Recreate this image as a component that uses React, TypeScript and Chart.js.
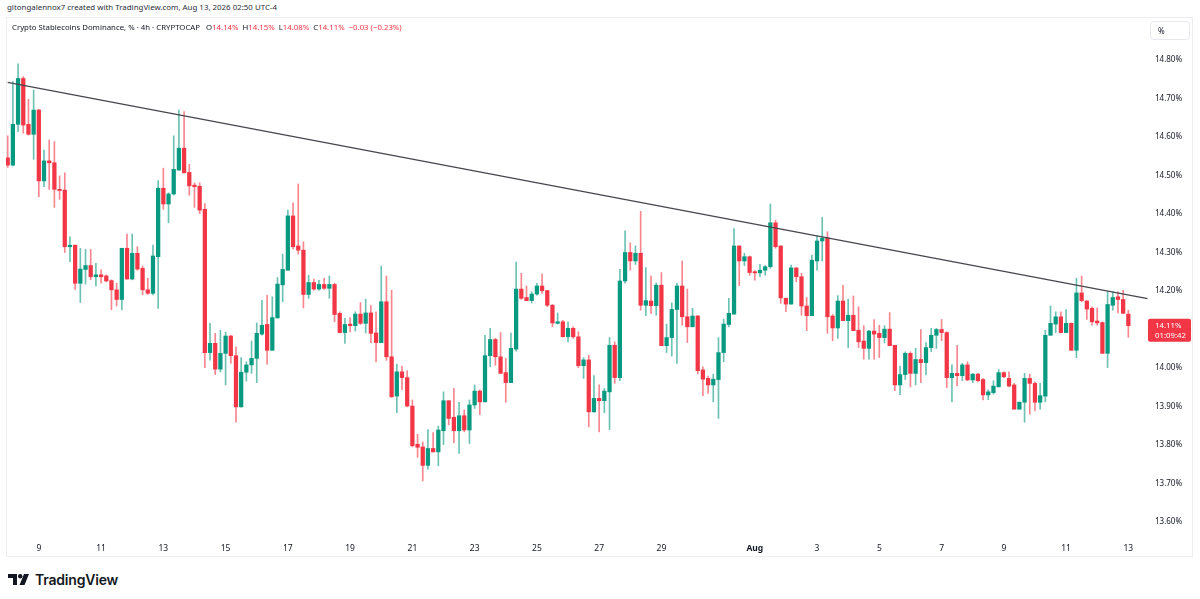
import { useEffect, useRef } from 'react';
import { Chart, registerables } from 'chart.js';

Chart.register(...registerables);

// 4h candles, Jul 8 00:00 -> Aug 13 00:00 (UTC-4)
const opens = [
  14.546, 14.527, 14.633, 14.752, 14.633, 14.607, 14.670, 14.486, 14.538, 14.533,
  14.464, 14.462, 14.315, 14.319, 14.220, 14.256, 14.266, 14.237, 14.242, 14.239,
  14.227, 14.203, 14.178, 14.311, 14.231, 14.298, 14.259, 14.203, 14.194, 14.289,
  14.467, 14.426, 14.452, 14.514, 14.571, 14.508, 14.475, 14.472, 14.412, 14.040,
  14.064, 13.997, 14.038, 14.083, 14.032, 13.899, 13.989, 14.008, 14.025, 14.088,
  14.113, 14.046, 14.130, 14.216, 14.254, 14.395, 14.317, 14.306, 14.191, 14.222,
  14.205, 14.217, 14.207, 14.217, 14.142, 14.092, 14.114, 14.110, 14.140, 14.116,
  14.143, 14.091, 14.066, 14.172, 14.029, 13.927, 13.990, 13.975, 13.901, 13.802,
  13.795, 13.747, 13.791, 13.782, 13.837, 13.915, 13.872, 13.837, 13.876, 13.839,
  13.904, 13.940, 13.912, 14.032, 14.074, 14.029, 13.988, 13.962, 14.049, 14.205,
  14.183, 14.175, 14.192, 14.213, 14.201, 14.163, 14.116, 14.120, 14.081, 14.103,
  14.081, 14.006, 14.021, 13.886, 13.921, 13.915, 13.938, 14.059, 13.975, 14.226,
  14.300, 14.278, 14.298, 14.163, 14.174, 14.162, 14.215, 14.058, 14.079, 14.152,
  14.213, 14.133, 14.107, 14.135, 13.995, 13.973, 13.956, 13.970, 14.040, 14.113,
  14.140, 14.317, 14.278, 14.289, 14.250, 14.247, 14.254, 14.263, 14.377, 14.317,
  14.181, 14.166, 14.260, 14.237, 14.161, 14.136, 14.278, 14.330, 14.338, 14.135,
  14.104, 14.174, 14.123, 14.137, 14.098, 14.070, 14.051, 14.096, 14.090, 14.079,
  14.101, 14.059, 13.956, 13.983, 14.038, 13.986, 14.022, 14.014, 14.053, 14.085,
  14.100, 14.092, 13.975, 13.986, 13.980, 14.008, 13.969, 13.984, 13.970, 13.930,
  13.936, 13.951, 13.988, 13.973, 13.956, 13.893, 13.911, 13.973, 13.960, 13.911,
  13.927, 14.085, 14.114, 14.133, 14.092, 14.116, 14.046, 14.195, 14.174, 14.155,
  14.122, 14.118, 14.038, 14.163, 14.185, 14.178, 14.140,
];
const highs = [
  14.603, 14.744, 14.790, 14.757, 14.698, 14.722, 14.672, 14.566, 14.592, 14.588,
  14.499, 14.507, 14.341, 14.319, 14.311, 14.308, 14.308, 14.272, 14.255, 14.242,
  14.229, 14.220, 14.311, 14.348, 14.348, 14.315, 14.265, 14.233, 14.319, 14.487,
  14.519, 14.455, 14.603, 14.670, 14.666, 14.529, 14.481, 14.481, 14.427, 14.116,
  14.090, 14.098, 14.093, 14.085, 14.055, 14.027, 14.016, 14.070, 14.117, 14.176,
  14.189, 14.185, 14.235, 14.296, 14.410, 14.429, 14.478, 14.328, 14.241, 14.231,
  14.228, 14.233, 14.239, 14.220, 14.146, 14.129, 14.131, 14.146, 14.170, 14.179,
  14.163, 14.146, 14.265, 14.239, 14.202, 14.010, 14.005, 13.993, 13.917, 13.828,
  13.808, 13.840, 13.832, 13.849, 13.938, 13.915, 13.947, 13.911, 13.891, 13.917,
  13.956, 13.943, 14.085, 14.103, 14.077, 14.092, 14.025, 14.091, 14.275, 14.246,
  14.213, 14.198, 14.220, 14.244, 14.202, 14.165, 14.143, 14.124, 14.120, 14.107,
  14.094, 14.027, 14.033, 13.980, 13.956, 13.947, 14.079, 14.068, 14.256, 14.356,
  14.325, 14.317, 14.407, 14.261, 14.239, 14.221, 14.248, 14.114, 14.169, 14.220,
  14.278, 14.205, 14.155, 14.137, 14.003, 13.979, 13.984, 14.079, 14.127, 14.181,
  14.362, 14.317, 14.298, 14.291, 14.253, 14.269, 14.266, 14.426, 14.384, 14.317,
  14.182, 14.267, 14.260, 14.246, 14.183, 14.293, 14.343, 14.391, 14.354, 14.139,
  14.188, 14.215, 14.179, 14.187, 14.159, 14.110, 14.098, 14.126, 14.111, 14.110,
  14.144, 14.059, 14.005, 14.042, 14.042, 14.051, 14.100, 14.066, 14.103, 14.103,
  14.126, 14.094, 14.008, 14.059, 14.012, 14.016, 13.986, 13.986, 13.973, 13.943,
  13.967, 13.996, 13.990, 13.990, 13.960, 13.912, 13.986, 13.984, 13.964, 13.960,
  14.098, 14.161, 14.146, 14.146, 14.152, 14.117, 14.233, 14.239, 14.175, 14.159,
  14.156, 14.120, 14.198, 14.198, 14.198, 14.202, 14.150,
];
const lows = [
  14.521, 14.525, 14.614, 14.610, 14.605, 14.542, 14.445, 14.471, 14.464, 14.417,
  14.438, 14.300, 14.276, 14.204, 14.170, 14.218, 14.229, 14.213, 14.220, 14.224,
  14.151, 14.161, 14.151, 14.231, 14.229, 14.254, 14.190, 14.191, 14.190, 14.155,
  14.412, 14.377, 14.449, 14.514, 14.507, 14.449, 14.417, 14.401, 14.001, 14.020,
  13.983, 13.990, 13.956, 14.012, 13.859, 13.898, 13.966, 13.986, 13.962, 14.085,
  14.010, 14.046, 14.130, 14.172, 14.254, 14.309, 14.296, 14.156, 14.181, 14.202,
  14.202, 14.204, 14.181, 14.120, 14.092, 14.064, 14.094, 14.096, 14.113, 14.091,
  14.066, 14.016, 14.066, 14.020, 13.924, 13.884, 13.944, 13.899, 13.795, 13.768,
  13.707, 13.737, 13.782, 13.746, 13.801, 13.852, 13.806, 13.778, 13.834, 13.804,
  13.895, 13.879, 13.912, 14.003, 14.007, 13.986, 13.911, 13.962, 14.044, 14.178,
  14.175, 14.169, 14.189, 14.194, 14.159, 14.107, 14.114, 14.081, 14.068, 14.077,
  14.001, 13.973, 13.847, 13.885, 13.834, 13.884, 13.840, 13.960, 13.967, 14.220,
  14.254, 14.269, 14.150, 14.136, 14.142, 14.137, 14.058, 14.040, 14.031, 14.012,
  14.111, 14.066, 14.107, 13.985, 13.928, 13.934, 13.912, 13.869, 14.016, 14.107,
  14.140, 14.214, 14.266, 14.241, 14.228, 14.237, 14.241, 14.259, 14.311, 14.168,
  14.146, 14.166, 14.224, 14.137, 14.097, 14.136, 14.254, 14.278, 14.090, 14.071,
  14.077, 14.123, 14.053, 14.097, 14.053, 14.023, 14.023, 14.023, 14.027, 14.065,
  14.058, 13.941, 13.931, 13.970, 13.951, 13.956, 13.962, 13.982, 14.042, 14.051,
  14.071, 13.949, 13.912, 13.954, 13.967, 13.967, 13.962, 13.964, 13.917, 13.918,
  13.932, 13.951, 13.975, 13.951, 13.893, 13.893, 13.859, 13.880, 13.889, 13.893,
  13.912, 14.085, 14.092, 14.092, 14.092, 14.046, 14.027, 14.172, 14.126, 14.111,
  14.111, 14.038, 14.001, 14.150, 14.143, 14.141, 14.080,
];
const closes = [
  14.527, 14.633, 14.752, 14.631, 14.607, 14.670, 14.486, 14.538, 14.533, 14.464,
  14.461, 14.315, 14.319, 14.220, 14.257, 14.266, 14.237, 14.242, 14.237, 14.226,
  14.203, 14.178, 14.311, 14.231, 14.298, 14.257, 14.203, 14.194, 14.291, 14.467,
  14.426, 14.452, 14.516, 14.571, 14.507, 14.473, 14.471, 14.410, 14.040, 14.064,
  13.997, 14.038, 14.083, 14.032, 13.899, 13.989, 14.008, 14.025, 14.090, 14.111,
  14.046, 14.131, 14.218, 14.256, 14.395, 14.315, 14.306, 14.191, 14.222, 14.205,
  14.217, 14.207, 14.217, 14.139, 14.092, 14.113, 14.110, 14.140, 14.116, 14.143,
  14.090, 14.066, 14.172, 14.029, 13.925, 13.990, 13.975, 13.901, 13.798, 13.794,
  13.747, 13.791, 13.782, 13.839, 13.915, 13.869, 13.837, 13.876, 13.839, 13.904,
  13.940, 13.912, 14.032, 14.074, 14.029, 13.986, 13.962, 14.051, 14.205, 14.181,
  14.175, 14.192, 14.213, 14.201, 14.163, 14.117, 14.120, 14.081, 14.103, 14.081,
  14.006, 14.021, 13.886, 13.921, 13.915, 13.940, 14.059, 13.975, 14.226, 14.300,
  14.278, 14.298, 14.163, 14.175, 14.162, 14.215, 14.058, 14.079, 14.152, 14.213,
  14.133, 14.107, 14.135, 13.993, 13.971, 13.956, 13.971, 14.040, 14.114, 14.142,
  14.317, 14.278, 14.289, 14.248, 14.247, 14.254, 14.263, 14.377, 14.315, 14.182,
  14.166, 14.260, 14.237, 14.161, 14.136, 14.280, 14.330, 14.337, 14.133, 14.104,
  14.174, 14.123, 14.137, 14.097, 14.068, 14.051, 14.096, 14.088, 14.079, 14.101,
  14.058, 13.956, 13.983, 14.038, 13.986, 14.022, 14.014, 14.053, 14.085, 14.100,
  14.092, 13.975, 13.986, 13.980, 14.008, 13.969, 13.984, 13.967, 13.930, 13.938,
  13.953, 13.988, 13.977, 13.953, 13.893, 13.911, 13.973, 13.960, 13.911, 13.928,
  14.085, 14.116, 14.133, 14.092, 14.116, 14.046, 14.195, 14.175, 14.153, 14.120,
  14.117, 14.038, 14.165, 14.183, 14.178, 14.142, 14.110,
];

// time axis: candle index of each labelled day, and its label
const dayTickIndex = [6, 18, 30, 42, 54, 66, 78, 90, 102, 114, 126, 144, 156, 168, 180, 192, 204, 216];
const dayTickLabels = ['9', '11', '13', '15', '17', '19', '21', '23', '25', '27', '29', 'Aug', '3', '5', '7', '9', '11', '13'];

const priceTicks = [13.6, 13.7, 13.8, 13.9, 14.0, 14.2, 14.3, 14.4, 14.5, 14.6, 14.7, 14.8];

// hand-drawn resistance line (candle index, price)
const trendIndex = [0, 219.7];
const trendPrice = [14.742, 14.18];

const UP = '#089981';
const DOWN = '#F23645';
const UP_WICK = 'rgba(8,153,129,0.6)';
const DOWN_WICK = 'rgba(242,54,69,0.6)';
const FONT = '"Noto Sans", Roboto, sans-serif';

const lastPriceLabel = {
  id: 'lastPriceLabel',
  afterDraw(chart: any) {
    const { ctx, chartArea, scales } = chart;
    const last = closes[closes.length - 1];
    const y = scales.y.getPixelForValue(last);
    const x = chartArea.right;
    ctx.save();
    ctx.fillStyle = DOWN;
    ctx.beginPath();
    ctx.roundRect(x, y - 7, 43, 23, 2);
    ctx.fill();
    ctx.fillStyle = '#ffffff';
    ctx.font = `7.8px ${FONT}`;
    ctx.textBaseline = 'middle';
    ctx.textAlign = 'left';
    ctx.fillText(last.toFixed(2) + '%', x + 7, y);
    ctx.fillText('01:09:42', x + 7, y + 10);
    ctx.restore();
  },
};

function CandleChart() {
  const canvasRef = useRef<HTMLCanvasElement>(null);

  useEffect(() => {
    if (!canvasRef.current) return;
    const idx = opens.map((_, i) => i);
    const isUp = idx.map((i) => closes[i] >= opens[i]);

    const chart = new Chart(canvasRef.current, {
      type: 'bar',
      data: {
        datasets: [
          {
            type: 'bar',
            label: 'wicks',
            data: idx.map((i) => ({ x: i, y: [lows[i], highs[i]] })) as any,
            backgroundColor: isUp.map((u) => (u ? UP_WICK : DOWN_WICK)),
            barThickness: 1,
            grouped: false,
            order: 3,
          },
          {
            type: 'bar',
            label: 'bodies',
            data: idx.map((i) => ({ x: i, y: [opens[i], closes[i]] })) as any,
            backgroundColor: isUp.map((u) => (u ? UP : DOWN)),
            barThickness: 3.6,
            minBarLength: 1,
            grouped: false,
            order: 2,
          },
          {
            type: 'line',
            label: 'trend',
            data: trendIndex.map((v, i) => ({ x: v, y: trendPrice[i] })) as any,
            borderColor: '#45474d',
            borderWidth: 1.2,
            pointRadius: 0,
            order: 1,
          },
        ],
      },
      options: {
        responsive: false,
        animation: false,
        events: [],
        layout: { padding: 0 },
        plugins: {
          legend: { display: false },
          tooltip: { enabled: false },
        },
        scales: {
          x: {
            type: 'linear',
            min: -0.328,
            max: 219.79,
            offset: false,
            grid: { display: false, drawTicks: false },
            border: { display: false },
            afterFit: (scale: any) => {
              scale.height = 20;
              scale.paddingLeft = 0;
              scale.paddingRight = 0;
            },
            afterBuildTicks: (scale: any) => {
              scale.ticks = dayTickIndex.map((v) => ({ value: v }));
            },
            ticks: {
              autoSkip: false,
              maxRotation: 0,
              padding: 6,
              color: '#131722',
              font: (c: any) => ({
                family: FONT,
                size: 8.5,
                weight: c.tick && c.tick.label === 'Aug' ? 'bold' : 'normal',
              }),
              callback: (value: any) => {
                const k = dayTickIndex.indexOf(Number(value));
                return k >= 0 ? dayTickLabels[k] : '';
              },
            },
          },
          y: {
            type: 'linear',
            position: 'right',
            min: 13.561,
            max: 14.9091,
            grid: { display: false, drawTicks: false },
            border: { display: false },
            afterFit: (scale: any) => {
              scale.width = 45;
              scale.paddingTop = 0;
              scale.paddingBottom = 0;
            },
            afterBuildTicks: (scale: any) => {
              scale.ticks = priceTicks.map((v) => ({ value: v }));
            },
            ticks: {
              padding: 7,
              color: '#131722',
              font: { family: FONT, size: 8 },
              callback: (value: any) => Number(value).toFixed(2) + '%',
            },
          },
        },
      },
      plugins: [lastPriceLabel],
    });

    return () => chart.destroy();
  }, []);

  return <canvas ref={canvasRef} width={1187} height={539} style={{ display: 'block' }} />;
}

function Logo() {
  return (
    <div style={{ position: 'absolute', left: 8, top: 571, display: 'flex', alignItems: 'center' }}>
      <svg width="22" height="11" viewBox="0 0 22 11">
        <path d="M0 0 H9 V11 H5 V4 H0 Z" fill="#131722" />
        <circle cx="12.2" cy="2.2" r="2.2" fill="#131722" />
        <path d="M16 0 H21 L16.5 11 H11.5 Z" fill="#131722" />
      </svg>
      <span style={{ marginLeft: 5, fontFamily: 'Inter, sans-serif', fontWeight: 600, fontSize: 14, color: '#131722', letterSpacing: -0.2 }}>
        TradingView
      </span>
    </div>
  );
}

export default function App() {
  const red = { color: DOWN };
  return (
    <div
      style={{
        position: 'fixed',
        left: 0,
        top: 0,
        width: 1200,
        height: 599,
        background: '#ffffff',
        overflow: 'hidden',
        fontFamily: FONT,
        color: '#131722',
      }}
    >
      <div style={{ position: 'absolute', left: 7, top: 2, fontSize: 7.9, color: '#2a2e39', whiteSpace: 'nowrap' }}>
        gitongalennox7 created with TradingView.com, Aug 13, 2026 02:50 UTC-4
      </div>
      <div
        style={{
          position: 'absolute',
          left: 6,
          top: 17,
          width: 1187,
          height: 540,
          border: '1px solid #eceef2',
          boxSizing: 'border-box',
        }}
      />
      <div style={{ position: 'absolute', left: 6, top: 18 }}>
        <CandleChart />
      </div>
      <div style={{ position: 'absolute', left: 12, top: 22, fontSize: 7.8, whiteSpace: 'nowrap' }}>
        <span>Crypto Stablecoins Dominance, % · 4h · CRYPTOCAP</span>
        <span style={{ marginLeft: 6 }}>O</span>
        <span style={red}>14.14%</span>
        <span style={{ marginLeft: 4 }}>H</span>
        <span style={red}>14.15%</span>
        <span style={{ marginLeft: 4 }}>L</span>
        <span style={red}>14.08%</span>
        <span style={{ marginLeft: 4 }}>C</span>
        <span style={red}>14.11%</span>
        <span style={{ ...red, marginLeft: 4 }}>−0.03 (−0.23%)</span>
      </div>
      <div
        style={{
          position: 'absolute',
          left: 1150,
          top: 21,
          width: 40,
          height: 19,
          border: '1px solid #e6e8ee',
          borderRadius: 4,
          boxSizing: 'border-box',
          fontSize: 8,
          lineHeight: '17px',
          paddingLeft: 7,
        }}
      >
        %
      </div>
      <Logo />
    </div>
  );
}
